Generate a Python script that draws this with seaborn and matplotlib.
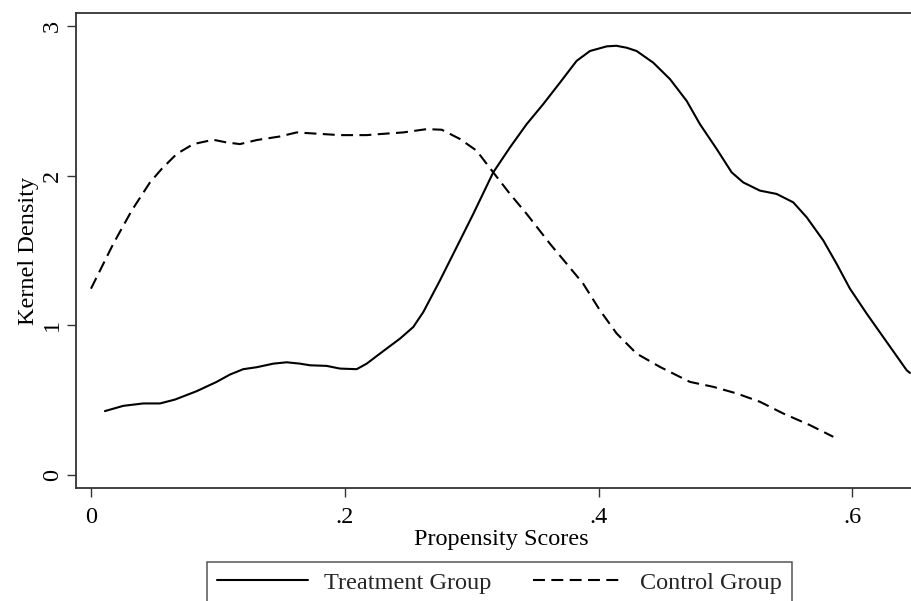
import matplotlib
matplotlib.use("Agg")
import matplotlib.pyplot as plt
from matplotlib.lines import Line2D
import pandas as pd
import seaborn as sns

# Kernel density of propensity scores, by group
treat_x = [0.011, 0.0255, 0.0412, 0.0544, 0.0662, 0.0833, 0.0990, 0.1095, 0.1200,
           0.1306, 0.1437, 0.1542, 0.1647, 0.1726, 0.1857, 0.1962, 0.2094, 0.2173,
           0.2277, 0.2435, 0.2540, 0.2619, 0.2750, 0.2908, 0.3013, 0.3170, 0.3302,
           0.3433, 0.3564, 0.3696, 0.3827, 0.3932, 0.4064, 0.4140, 0.4221, 0.4300,
           0.4431, 0.4563, 0.4694, 0.4799, 0.4931, 0.5049, 0.5140, 0.5272, 0.5403,
           0.5534, 0.5640, 0.5771, 0.5876, 0.5981, 0.6113, 0.6243, 0.6428, 0.6454]
treat_y = [0.427, 0.462, 0.478, 0.478, 0.504, 0.560, 0.622, 0.671, 0.707,
           0.720, 0.744, 0.753, 0.744, 0.733, 0.729, 0.711, 0.707, 0.744,
           0.811, 0.911, 0.989, 1.089, 1.300, 1.567, 1.745, 2.022, 2.189,
           2.344, 2.478, 2.622, 2.767, 2.833, 2.864, 2.868, 2.855, 2.833,
           2.755, 2.645, 2.500, 2.344, 2.178, 2.022, 1.955, 1.900, 1.878,
           1.822, 1.722, 1.567, 1.411, 1.245, 1.078, 0.922, 0.700, 0.682]

ctrl_x = [0.0, 0.0176, 0.0321, 0.0465, 0.0557, 0.0675, 0.0806, 0.0964, 0.1069,
          0.1174, 0.1306, 0.1489, 0.1621, 0.1752, 0.1962, 0.2173, 0.2277, 0.2461,
          0.2645, 0.2764, 0.2908, 0.3039, 0.3170, 0.3302, 0.3433, 0.3617, 0.3749,
          0.3879, 0.4011, 0.4143, 0.4300, 0.4484, 0.4720, 0.4904, 0.5088, 0.5272,
          0.5455, 0.5666, 0.5850]
ctrl_y = [1.245, 1.545, 1.767, 1.955, 2.045, 2.145, 2.211, 2.240, 2.222,
          2.211, 2.238, 2.262, 2.289, 2.282, 2.271, 2.271, 2.278, 2.289,
          2.311, 2.307, 2.245, 2.167, 2.022, 1.878, 1.745, 1.545, 1.411,
          1.278, 1.100, 0.945, 0.811, 0.722, 0.622, 0.589, 0.545, 0.489,
          0.411, 0.333, 0.255]

group_names = ["Treatment Group", "Control Group"]
x_ticks = [0, 0.2, 0.4, 0.6]
x_tick_labels = ["0", ".2", ".4", ".6"]
y_ticks = [0, 1, 2, 3]
y_tick_labels = ["0", "1", "2", "3"]

sns.set_theme(style="white")
plt.rcParams["font.family"] = ["Liberation Serif", "DejaVu Serif"]
plt.rcParams["lines.scale_dashes"] = False

FS = 17.5
LW = 1.5
DASH = (0, (8.6, 4.6))

W, H = 912, 601
fig = plt.figure(figsize=(W / 100, H / 100), dpi=100)
fig.patch.set_facecolor("white")
# plot region runs up to the right edge of the canvas
ax = fig.add_axes([76 / W, 113 / H, 836 / W, 475 / H])
ax.patch.set_visible(False)

treat = pd.DataFrame({"score": treat_x, "density": treat_y})
ctrl = pd.DataFrame({"score": ctrl_x, "density": ctrl_y})

sns.lineplot(data=treat, x="score", y="density", ax=ax, color="black",
             linewidth=LW, estimator=None, sort=False)
sns.lineplot(data=ctrl, x="score", y="density", ax=ax, color="black",
             linewidth=LW, linestyle=DASH, estimator=None, sort=False)

ax.set_xlim(-0.0118, 0.6470)
ax.set_ylim(-0.087, 3.087)
ax.set_xticks(x_ticks)
ax.set_xticklabels(x_tick_labels)
ax.set_yticks(y_ticks)
ax.set_yticklabels(y_tick_labels, rotation=90, va="center")

ax.set_xlabel("Propensity Scores", fontsize=FS, labelpad=1, color="black")
ax.xaxis.label.set_x((501 - 76) / 836)
ax.set_ylabel("Kernel Density", fontsize=FS, labelpad=2, color="black")

ax.tick_params(axis="both", direction="out", length=6.5, width=1.0,
               color="#333333", labelsize=FS, labelcolor="black",
               bottom=True, left=True, right=False, top=False)
ax.tick_params(axis="x", pad=7)
ax.tick_params(axis="y", pad=3)

for side in ["left", "bottom", "top"]:
    ax.spines[side].set_visible(True)
    ax.spines[side].set_color("#333333")
    ax.spines[side].set_linewidth(1.3)
ax.spines["right"].set_visible(False)
ax.grid(False)

handles = [Line2D([], [], color="black", linewidth=LW),
           Line2D([], [], color="black", linewidth=LW, linestyle=DASH)]
leg = fig.legend(handles, group_names, loc="upper center",
                 bbox_to_anchor=(499.5 / W, 1 - 562 / H), ncol=2,
                 fontsize=FS, frameon=True, fancybox=False, shadow=False,
                 borderpad=0.41, handlelength=3.75, handletextpad=0.66,
                 columnspacing=1.69, borderaxespad=0)
leg.get_frame().set_edgecolor("#555555")
leg.get_frame().set_linewidth(1.1)
leg.get_frame().set_facecolor("white")
leg.get_frame().set_alpha(1)

fig.savefig("out.png", dpi=100)
